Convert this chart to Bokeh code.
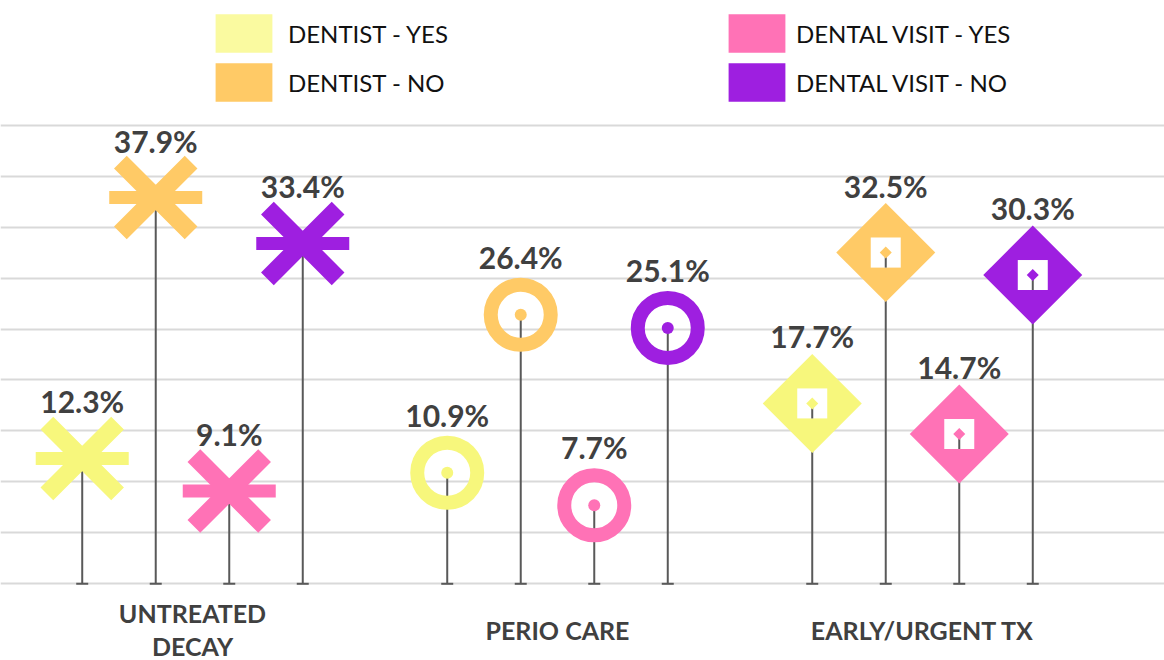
import math
from bokeh.plotting import figure
from bokeh.models import ColumnDataSource, Range1d, FixedTicker, Legend, LegendItem, Grid
from bokeh.core.properties import value
from bokeh.embed import file_html
from bokeh.resources import INLINE

# ---------------- data ----------------
categories = ["UNTREATED\nDECAY", "PERIO CARE", "EARLY/URGENT TX"]
series_names = ["DENTIST - YES", "DENTIST - NO", "DENTAL VISIT - YES", "DENTAL VISIT - NO"]
dentist_yes = [12.3, 10.9, 17.7]
dentist_no = [37.9, 26.4, 32.5]
visit_yes = [9.1, 7.7, 14.7]
visit_no = [33.4, 25.1, 30.3]
y_ticks = [0, 5, 10, 15, 20, 25, 30, 35, 40, 45]

# ---------------- styles ----------------
series_values = [dentist_yes, dentist_no, visit_yes, visit_no]
marker_colors = ["#F7F77C", "#FFCA66", "#FF72B6", "#9E1FE0"]
legend_colors = ["#FAFAA0", "#FFCA66", "#FF72B6", "#9E1FE0"]
STEM = "#595959"
LABEL = "#404040"
FONT = "Lato"

W, H = 1164, 660
X0, X1 = -0.526, 2.663
Y0, Y1 = -7.527, 57.24
PX_PER_UNIT = H / (Y1 - Y0)
SLOT = 0.2014                      # spacing of the 4 series inside a category
offsets = [(i - 1.5) * SLOT for i in range(4)]
label_offsets = [-57, -58, -67]    # label standoff above marker, per category

p = figure(width=W, height=H, x_range=Range1d(X0, X1), y_range=Range1d(Y0, Y1),
           x_axis_location=None, y_axis_location=None,
           output_backend="svg", toolbar_location=None, min_border=0)
p.outline_line_color = None
p.background_fill_color = "white"
p.border_fill_color = "white"
p.center = [r for r in p.center if not isinstance(r, Grid)]
p.add_layout(Grid(dimension=1, ticker=FixedTicker(ticks=y_ticks),
                  grid_line_color="#D9D9D9", grid_line_width=2))

# per-category sources
cat_src = []
for j in range(len(categories)):
    xs, ys, cols, labs = [], [], [], []
    for i, vals in enumerate(series_values):
        xs.append(j + offsets[i])
        ys.append(vals[j])
        cols.append(marker_colors[i])
        labs.append(f"{vals[j]:.1f}%")
    cat_src.append(ColumnDataSource(dict(x=xs, y=ys, c=cols, lab=labs,
                                         yin=[v - 15 / PX_PER_UNIT for v in ys])))

# stems with bottom caps (drawn first, below markers)
for src in cat_src:
    p.segment(x0="x", y0=0, x1="x", y1="y", source=src, line_color=STEM, line_width=2)
    p.scatter(x="x", y=0, source=src, marker="dash", size=12, line_color=STEM, line_width=2)

# category 0: asterisks (X + dash)
s0 = cat_src[0]
p.scatter(x="x", y="y", source=s0, marker="x", size=100, line_color="c", line_width=18)
p.scatter(x="x", y="y", source=s0, marker="dash", size=93, line_color="c", line_width=13)

# category 1: rings with centre dot
s1 = cat_src[1]
p.scatter(x="x", y="y", source=s1, marker="circle", size=60, fill_color=None,
          line_color="c", line_width=14)
p.scatter(x="x", y="y", source=s1, marker="circle", size=12, fill_color="c", line_color=None)

# category 2: diamonds with white square window
s2 = cat_src[2]
p.scatter(x="x", y="y", source=s2, marker="square", size=70, angle=math.pi / 4,
          fill_color="c", line_color=None)
p.scatter(x="x", y="y", source=s2, marker="square", size=30, fill_color="white", line_color=None)
p.segment(x0="x", y0="yin", x1="x", y1="y", source=s2, line_color=STEM, line_width=2)
p.scatter(x="x", y="y", source=s2, marker="square", size=8.5, angle=math.pi / 4,
          fill_color="c", line_color=None)

# value labels
for j, src in enumerate(cat_src):
    p.text(x="x", y="y", text="lab", source=src, y_offset=label_offsets[j],
           text_align="center", text_baseline="alphabetic",
           text_font=value(FONT), text_font_style="bold", text_font_size="30px",
           text_color=LABEL)

# category labels
p.text(x=list(range(len(categories))), y=[0] * len(categories), text=categories,
       y_offset=46, text_align="center", text_baseline="middle",
       text_font=value(FONT), text_font_style="bold", text_font_size="25px",
       text_color=LABEL, text_line_height=1.1)

# legend swatch renderers (no visible data; only used by the legends)
nan = float("nan")
swatches = [p.quad(left=[nan], right=[nan], top=[nan], bottom=[nan],
                   fill_color=c, line_color=None) for c in legend_colors]

def make_legend(idx, loc, standoff):
    lg = Legend(items=[LegendItem(label=series_names[k], renderers=[swatches[k]]) for k in idx],
                location=loc, orientation="vertical", glyph_width=71, glyph_height=48,
                spacing=1, padding=0, margin=0, label_standoff=standoff,
                label_text_font=FONT, label_text_font_size="24px", label_text_color="#111111",
                border_line_color=None, background_fill_alpha=0)
    p.add_layout(lg)

make_legend([0, 1], (208, 554), 9)
make_legend([2, 3], (721, 554), 4)

open("out.html", "w").write(file_html(p, INLINE))
